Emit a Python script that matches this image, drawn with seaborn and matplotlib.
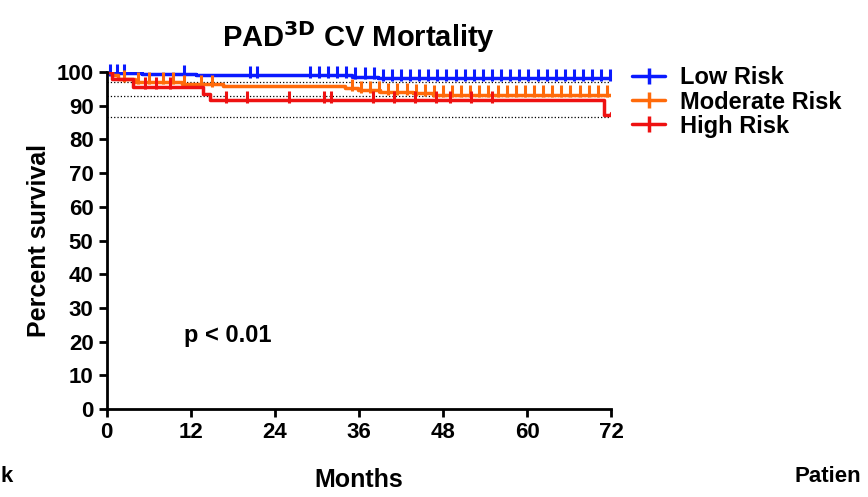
import matplotlib
matplotlib.use("Agg")
import matplotlib.pyplot as plt
from matplotlib.lines import Line2D
import seaborn as sns
import numpy as np

sns.set_style("ticks")
plt.rcParams['font.family'] = ['Liberation Sans', 'DejaVu Sans']
plt.rcParams['text.color'] = 'black'
plt.rcParams['axes.labelcolor'] = 'black'
plt.rcParams['xtick.color'] = 'black'
plt.rcParams['ytick.color'] = 'black'
plt.rcParams['axes.edgecolor'] = 'black'

low_t = [0, 5.1, 12.8, 35, 38.7, 72]
low_s = [99.7, 99.3, 99.1, 98.6, 98.1, 98.1]
mod_t = [0, 0.7, 1.6, 4, 10.7, 16.6, 34, 35.9, 39, 43.7, 46.6, 72]
mod_s = [100, 99, 97.9, 97.1, 96.4, 95.8, 95.2, 94.7, 94.0, 93.7, 93.3, 93.3]
high_t = [0, 0.7, 3.7, 13.7, 14.7, 71, 72]
high_s = [100, 98, 95.7, 93.4, 91.7, 87.2, 88.0]
low_c = [0.5, 1.5, 2.5, 11, 20.5, 21.5] + list(np.arange(29, 72.1, 1.3))
mod_c = [2.5, 4.5, 6, 8, 9.5, 11, 13.5, 15] + list(np.arange(35, 72.1, 1.3))
high_c = [5.5, 7, 9, 17, 20, 26, 31, 32, 38, 41, 44, 47, 49, 52, 55]
hlines = [97.1, 92.9, 86.7]

fig, ax = plt.subplots(figsize=(8.68, 4.97), dpi=100)
fig.subplots_adjust(left=0.123, right=0.704, top=0.855, bottom=0.177)

handles = []
for t, s, c, col, lab in [(low_t, low_s, low_c, '#0a1aff', 'Low Risk'),
                          (mod_t, mod_s, mod_c, '#ff6a0a', 'Moderate Risk'),
                          (high_t, high_s, high_c, '#ee1111', 'High Risk')]:
    sns.lineplot(x=t, y=s, drawstyle='steps-post', color=col, lw=2.5, ax=ax, legend=False)
    cs = [s[np.searchsorted(t, ci, side='right') - 1] for ci in c]
    ax.plot(c, np.array(cs) + 1.0, ls='none', marker='|', ms=8, mew=2.2, color=col, clip_on=False)
    handles.append(Line2D([0], [0], color=col, lw=2.5, ls='-', marker='|', ms=12, mew=2.5, label=lab))

for h in hlines:
    ax.axhline(h, color='black', ls=':', lw=0.9, zorder=0)

ax.set_xlim(0, 72)
ax.set_ylim(0, 100)
ax.set_xticks(range(0, 73, 12))
ax.set_yticks(range(0, 101, 10))
ax.tick_params(labelsize=16, width=2, length=6)
for lbl in ax.get_xticklabels() + ax.get_yticklabels():
    lbl.set_fontweight('bold')
for sp in ['left', 'bottom']:
    ax.spines[sp].set_linewidth(2)
sns.despine(ax=ax)
ax.set_xlabel('Months', fontsize=18, fontweight='bold', labelpad=18)
ax.set_ylabel('Percent survival', fontsize=18, fontweight='bold')
ax.set_title('PAD$^{\\mathbf{3D}}$ CV Mortality', fontsize=21, fontweight='bold', pad=18)
ax.text(11, 20, 'p < 0.01', fontsize=17, fontweight='bold')
ax.legend(handles=handles, loc='upper left', bbox_to_anchor=(1.0, 1.08), frameon=False,
          prop={'size': 17, 'weight': 'bold'}, handlelength=1.4, labelspacing=0.05,
          handletextpad=0.6)
fig.text(0.0, 0.02, 'k', fontsize=16, fontweight='bold', va='bottom')
fig.text(0.915, 0.02, 'Patien', fontsize=16, fontweight='bold', va='bottom')
fig.savefig('out.png', dpi=100)
